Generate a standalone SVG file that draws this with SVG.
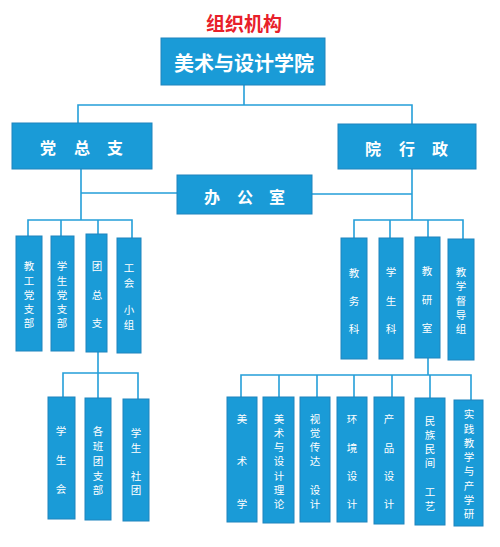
<svg xmlns="http://www.w3.org/2000/svg" width="500" height="547" viewBox="0 0 500 547">
<style>
.box{fill:#1a9bd7;stroke:#1f84bd;stroke-width:1}
.ln{fill:none;stroke:#259fd9;stroke-width:1.6}
text{font-family:"Noto Sans CJK SC","Noto Sans",sans-serif;fill:#ffffff;text-anchor:middle;dominant-baseline:central}
.s{font-size:10.5px}
.m{font-size:16px;font-weight:bold}
</style>
<rect width="500" height="547" fill="#ffffff"/>
<text x="244" y="22" style="fill:#e8202a;font-size:19px;font-weight:bold">组织机构</text>
<g id="connectors" class="ln">
<path d="M244 85V105M78 123V105H412V124"/>
<path d="M81 169V220M81 193H177M412 169V220M312 194H412"/>
<path d="M28 236V220H132V238M61 220V236M98 220V234"/>
<path d="M98 352V373M63 397V373H138V399M98 373V398"/>
<path d="M354 238V220H463V239M390 220V238M428 220V237"/>
<path d="M428 358V375M241 397V375H471V400M279 375V397M317 375V397M354 375V397M392 375V397M430 375V398"/>
</g>
<g id="n-top"><rect class="box" x="161" y="38" width="164" height="47"/><text x="244" y="62" style="font-size:20px;font-weight:bold">美术与设计学院</text></g>
<g id="n-dzz"><rect class="box" x="12" y="123" width="140" height="46"/><text class="m" x="48" y="147">党</text><text class="m" x="82" y="147">总</text><text class="m" x="115" y="147">支</text></g>
<g id="n-yxz"><rect class="box" x="338" y="124" width="138" height="45"/><text class="m" x="373" y="148">院</text><text class="m" x="407" y="148">行</text><text class="m" x="440" y="148">政</text></g>
<g id="n-bgs"><rect class="box" x="177" y="175" width="135" height="39"/><text class="m" x="212" y="196">办</text><text class="m" x="245" y="196">公</text><text class="m" x="277" y="196">室</text></g>

<g id="n-jgdzb"><rect class="box" x="16" y="236" width="26" height="115"/><text class="s" x="29" y="265">教</text><text class="s" x="29" y="280">工</text><text class="s" x="29" y="294">党</text><text class="s" x="29" y="308">支</text><text class="s" x="29" y="322">部</text></g>
<g id="n-xsdzb"><rect class="box" x="51" y="236" width="23" height="115"/><text class="s" x="62" y="265">学</text><text class="s" x="62" y="280">生</text><text class="s" x="62" y="294">党</text><text class="s" x="62" y="308">支</text><text class="s" x="62" y="322">部</text></g>
<g id="n-tzz"><rect class="box" x="86" y="234" width="21" height="118"/><text class="s" x="97" y="265">团</text><text class="s" x="97" y="294">总</text><text class="s" x="97" y="322">支</text></g>
<g id="n-ghxz"><rect class="box" x="117" y="238" width="24" height="115"/><text class="s" x="129" y="267">工</text><text class="s" x="129" y="282">会</text><text class="s" x="129" y="309">小</text><text class="s" x="129" y="324">组</text></g>

<g id="n-xsh"><rect class="box" x="48" y="397" width="27" height="122"/><text class="s" x="61" y="430">学</text><text class="s" x="61" y="459">生</text><text class="s" x="61" y="488">会</text></g>
<g id="n-gbtzb"><rect class="box" x="85" y="398" width="26" height="122"/><text class="s" x="98" y="430">各</text><text class="s" x="98" y="445">班</text><text class="s" x="98" y="460">团</text><text class="s" x="98" y="475">支</text><text class="s" x="98" y="489">部</text></g>
<g id="n-xsst"><rect class="box" x="123" y="399" width="26" height="122"/><text class="s" x="136" y="432">学</text><text class="s" x="136" y="447">生</text><text class="s" x="136" y="475">社</text><text class="s" x="136" y="489">团</text></g>

<g id="n-jwk"><rect class="box" x="341" y="238" width="26" height="121"/><text class="s" x="354" y="272">教</text><text class="s" x="354" y="300">务</text><text class="s" x="354" y="328">科</text></g>
<g id="n-xsk"><rect class="box" x="379" y="238" width="24" height="121"/><text class="s" x="391" y="271">学</text><text class="s" x="391" y="300">生</text><text class="s" x="391" y="328">科</text></g>
<g id="n-jys"><rect class="box" x="415" y="237" width="25" height="121"/><text class="s" x="427" y="270">教</text><text class="s" x="427" y="299">研</text><text class="s" x="427" y="327">室</text></g>
<g id="n-jxddz"><rect class="box" x="448" y="239" width="26" height="121"/><text class="s" x="461" y="271">教</text><text class="s" x="461" y="285">学</text><text class="s" x="461" y="300">督</text><text class="s" x="461" y="314">导</text><text class="s" x="461" y="328">组</text></g>

<g id="n-msx"><rect class="box" x="227" y="397" width="30" height="125"/><text class="s" x="242" y="418">美</text><text class="s" x="242" y="460">术</text><text class="s" x="242" y="503">学</text></g>
<g id="n-mssjll"><rect class="box" x="263" y="397" width="31" height="126"/><text class="s" x="279" y="418">美</text><text class="s" x="279" y="432">术</text><text class="s" x="279" y="446">与</text><text class="s" x="279" y="460">设</text><text class="s" x="279" y="475">计</text><text class="s" x="279" y="489">理</text><text class="s" x="279" y="503">论</text></g>
<g id="n-sjcdsj"><rect class="box" x="300" y="397" width="30" height="125"/><text class="s" x="315" y="418">视</text><text class="s" x="315" y="432">觉</text><text class="s" x="315" y="446">传</text><text class="s" x="315" y="460">达</text><text class="s" x="315" y="489">设</text><text class="s" x="315" y="503">计</text></g>
<g id="n-hjsj"><rect class="box" x="337" y="397" width="30" height="125"/><text class="s" x="352" y="418">环</text><text class="s" x="352" y="447">境</text><text class="s" x="352" y="475">设</text><text class="s" x="352" y="503">计</text></g>
<g id="n-cpsj"><rect class="box" x="374" y="397" width="30" height="127"/><text class="s" x="389" y="418">产</text><text class="s" x="389" y="447">品</text><text class="s" x="389" y="475">设</text><text class="s" x="389" y="503">计</text></g>
<g id="n-mzmjgy"><rect class="box" x="415" y="398" width="30" height="127"/><text class="s" x="430" y="420">民</text><text class="s" x="430" y="434">族</text><text class="s" x="430" y="448">民</text><text class="s" x="430" y="462">间</text><text class="s" x="430" y="491">工</text><text class="s" x="430" y="505">艺</text></g>
<g id="n-sjjx"><rect class="box" x="454" y="400" width="29" height="126"/><text class="s" x="469" y="413">实</text><text class="s" x="469" y="428">践</text><text class="s" x="469" y="442">教</text><text class="s" x="469" y="456">学</text><text class="s" x="469" y="470">与</text><text class="s" x="469" y="485">产</text><text class="s" x="469" y="499">学</text><text class="s" x="469" y="513">研</text></g>
</svg>
